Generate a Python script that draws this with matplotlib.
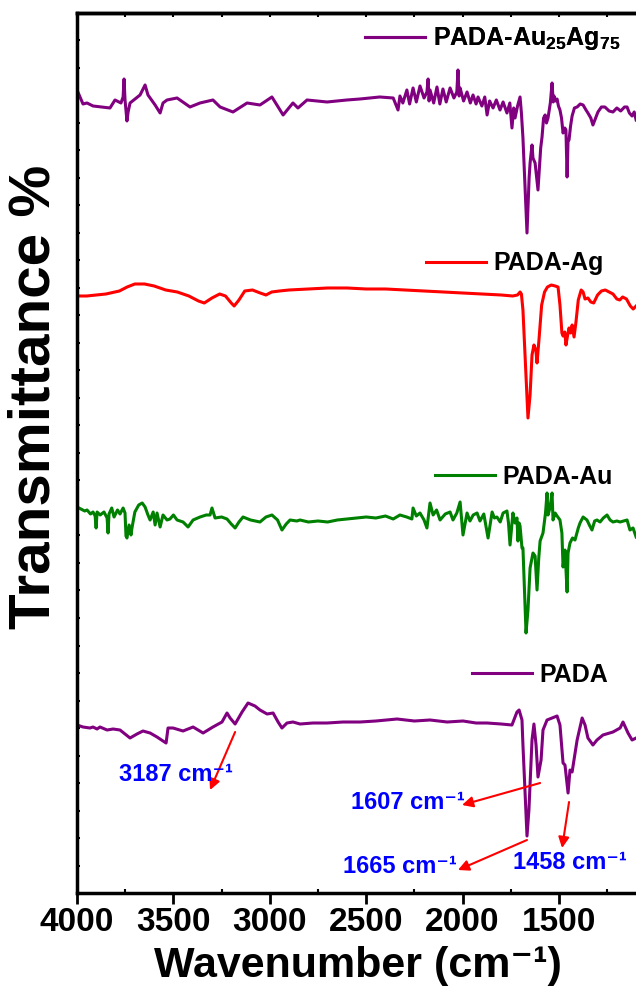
import numpy as np
import matplotlib.pyplot as plt
from matplotlib.ticker import MultipleLocator, FixedLocator

plt.rcParams['font.family'] = ['Liberation Sans', 'DejaVu Sans']
plt.rcParams['font.weight'] = 'bold'
plt.rcParams['mathtext.fontset'] = 'custom'
plt.rcParams['mathtext.rm'] = 'Liberation Sans:bold'
plt.rcParams['mathtext.it'] = 'Liberation Sans:bold'
plt.rcParams['mathtext.bf'] = 'Liberation Sans:bold'
plt.rcParams['mathtext.default'] = 'rm'

# ---- spectra (wavenumber, relative transmittance) ----
pada_wn = [4000, 3969, 3933, 3917, 3896, 3881, 3844, 3813, 3777, 3751, 3725, 3689,
           3658, 3621, 3585, 3554, 3538, 3528, 3502, 3450, 3398, 3346, 3295, 3248,
           3222, 3206, 3180, 3144, 3113, 3077, 3051, 3014, 2983, 2957, 2937, 2911,
           2880, 2843, 2776, 2703, 2620, 2532, 2450, 2340, 2250, 2169, 2080, 1998,
           1930, 1873, 1800, 1744, 1718, 1707, 1692, 1687, 1666, 1656, 1640, 1630,
           1619, 1609, 1593, 1583, 1562, 1536, 1510, 1495, 1479, 1469, 1453, 1443,
           1432, 1406, 1380, 1365, 1350, 1324, 1303, 1272, 1220, 1183, 1168, 1142,
           1121, 1100]
pada_val = [-0.3, -0.5, -0.6, -0.5, -0.7, -0.5, -0.8, -0.7, -0.8, -1.2, -1.6, -1.2,
            -0.9, -1.1, -1.5, -1.9, -2.1, -0.6, -0.6, -0.9, -0.5, -1.1, -0.5, 0.0,
            0.9, 0.4, -0.2, 1.0, 1.9, 1.6, 1.2, 0.8, 0.9, 0.0, -0.6, -0.1,
            0.0, -0.2, -0.1, -0.1, 0.0, 0.0, 0.1, 0.3, 0.1, 0.2, 0.0, 0.1,
            -0.1, -0.1, -0.2, -0.3, 1.0, 1.2, 0.2, -2.3, -11.4, -8.8, -1.8, -0.2,
            -2.3, -5.5, -3.8, -0.8, 0.2, 0.4, 0.6, -0.3, -4.1, -4.3, -7.1, -4.8,
            -5.0, -1.8, 0.4, -0.3, -1.6, -2.3, -1.8, -1.3, -1.0, -0.6, 0.0, -1.1,
            -1.8, -1.6]

au_wn = [4000, 3980, 3960, 3948, 3930, 3917, 3906, 3901, 3896, 3880, 3860, 3844,
         3839, 3834, 3820, 3808, 3790, 3777, 3761, 3751, 3746, 3741, 3730, 3720,
         3715, 3700, 3680, 3662, 3647, 3632, 3621, 3605, 3595, 3585, 3569, 3554,
         3533, 3518, 3500, 3481, 3450, 3424, 3398, 3362, 3330, 3310, 3300, 3284,
         3250, 3222, 3200, 3180, 3160, 3139, 3100, 3051, 3020, 2989, 2960, 2937,
         2915, 2895, 2860, 2843, 2800, 2750, 2700, 2650, 2600, 2550, 2500, 2450,
         2400, 2360, 2325, 2290, 2263, 2257, 2240, 2221, 2200, 2185, 2169, 2153,
         2135, 2117, 2090, 2065, 2050, 2030, 2013, 1998, 1977, 1962, 1945, 1925,
         1910, 1890, 1868, 1847, 1835, 1822, 1805, 1790, 1770, 1762, 1754, 1739,
         1728, 1718, 1713, 1707, 1702, 1692, 1687, 1671, 1661, 1650, 1635, 1624,
         1614, 1605, 1598, 1583, 1570, 1562, 1557, 1547, 1536, 1531, 1520, 1510,
         1495, 1485, 1479, 1469, 1458, 1453, 1443, 1430, 1417, 1400, 1391, 1375,
         1355, 1340, 1329, 1315, 1303, 1287, 1270, 1251, 1235, 1220, 1200, 1183,
         1165, 1147, 1132, 1116, 1100]
au_val = [1.1, 0.9, 0.7, 0.8, 0.4, 0.6, 0.2, -1.0, 0.6, 0.3, 0.6, 0.0,
          -1.5, 0.4, 1.0, 0.1, 0.8, 0.4, 1.0, 0.5, -1.8, -2.0, -0.7, -1.7,
          -1.0, 0.6, 1.3, 1.5, 1.1, 0.3, -0.2, 0.6, -0.7, 0.5, -0.9, 0.3,
          -0.2, -0.1, 0.3, -0.2, -0.4, -0.9, -0.2, 0.1, 0.3, 0.3, 1.0, 0.0,
          0.1, -0.1, -0.6, -1.0, -0.4, 0.1, -0.2, -0.4, 0.1, 0.3, -0.2, -1.2,
          -0.6, -0.2, -0.3, -0.2, -0.4, -0.3, -0.4, -0.2, -0.1, 0.0, 0.1, 0.0,
          0.2, -0.1, 0.3, 0.1, -0.1, 1.0, 0.2, 0.5, -0.2, -1.0, 1.5, 0.3,
          0.8, -0.2, 0.4, 0.6, -0.2, 0.5, 1.6, -1.7, 0.5, -0.3, 0.3, 0.5,
          -0.3, 0.4, -2.0, 0.6, 0.0, 0.1, -0.4, 0.5, 0.7, -0.5, -2.7, 0.5,
          -0.5, 0.0, -2.3, -0.5, -0.8, -3.0, -3.0, -11.5, -9.2, -5.0, -3.5, -3.8,
          -7.2, -4.0, -2.3, -1.5, 0.5, 2.5, 0.3, 1.0, 2.5, -0.2, 0.5, 0.2,
          -0.2, -1.5, -4.9, -3.2, -7.4, -3.5, -2.5, -2.0, -2.2, -1.0, -0.5, 0.1,
          -0.2, -0.8, -1.2, -0.3, -0.2, -0.4, 0.0, 0.3, -0.2, -0.4, -0.3, -0.4,
          -0.3, -0.2, -1.2, -1.0, -1.9]

ag_wn = [4000, 3950, 3850, 3780, 3740, 3700, 3650, 3600, 3540, 3480, 3420, 3370,
         3340, 3300, 3260, 3230, 3200, 3185, 3160, 3130, 3090, 3050, 3020, 2990,
         2950, 2900, 2800, 2700, 2600, 2500, 2400, 2300, 2200, 2100, 2000, 1900,
         1800, 1740, 1715, 1702, 1695, 1687, 1675, 1661, 1650, 1640, 1630, 1620,
         1614, 1604, 1590, 1575, 1560, 1540, 1520, 1505, 1495, 1485, 1479, 1470,
         1464, 1455, 1448, 1440, 1432, 1422, 1412, 1400, 1385, 1375, 1365, 1350,
         1335, 1320, 1300, 1280, 1260, 1240, 1220, 1200, 1185, 1170, 1150, 1130,
         1115, 1100]
ag_val = [-0.3, -0.3, -0.1, 0.2, 0.6, 0.9, 0.9, 0.7, 0.3, 0.1, -0.3, -0.8,
          -1.0, -0.5, -0.1, -0.3, -1.0, -1.3, -0.7, 0.2, 0.3, 0.0, -0.2, 0.1,
          0.2, 0.3, 0.4, 0.5, 0.5, 0.4, 0.4, 0.3, 0.2, 0.1, 0.0, -0.1,
          -0.2, -0.3, -0.2, 0.1, -0.1, -1.7, -6.7, -12.5, -10.2, -6.2, -5.2, -5.7,
          -7.0, -4.7, -1.2, 0.1, 0.6, 0.8, 0.7, 0.6, -1.2, -4.0, -4.3, -3.9,
          -5.2, -4.2, -3.5, -4.0, -3.2, -4.4, -2.9, -0.7, 0.3, 0.1, -0.6, -0.5,
          -0.9, -1.0, -0.2, 0.2, 0.3, 0.1, -0.1, -0.6, -0.7, -0.4, -0.6, -1.3,
          -1.6, -1.3]

auag_wn = [4000, 3969, 3948, 3917, 3829, 3803, 3772, 3761, 3756, 3751, 3741, 3735,
           3725, 3673, 3647, 3632, 3595, 3569, 3554, 3533, 3481, 3414, 3362, 3295,
           3258, 3191, 3118, 3051, 2989, 2931, 2880, 2854, 2807, 2703, 2600, 2532,
           2430, 2360, 2335, 2325, 2310, 2289, 2275, 2257, 2240, 2221, 2200, 2185,
           2179, 2174, 2169, 2150, 2133, 2118, 2102, 2085, 2065, 2045, 2030, 2024,
           2018, 2013, 1995, 1977, 1960, 1946, 1930, 1920, 1900, 1885, 1873, 1860,
           1842, 1825, 1806, 1790, 1770, 1755, 1744, 1735, 1728, 1715, 1702, 1695,
           1687, 1666, 1655, 1650, 1640, 1635, 1624, 1609, 1595, 1588, 1580, 1572,
           1565, 1557, 1545, 1536, 1530, 1526, 1518, 1510, 1503, 1495, 1487, 1479,
           1470, 1464, 1458, 1453, 1448, 1440, 1432, 1420, 1406, 1390, 1375, 1360,
           1350, 1335, 1324, 1310, 1298, 1280, 1262, 1240, 1220, 1200, 1180, 1160,
           1147, 1135, 1121, 1110, 1100]
auag_val = [0.8, -0.6, -0.5, -0.8, -1.0, -0.2, -0.5, 0.1, 1.9, -0.2, -2.3, -1.4,
            -0.5, 0.3, 1.3, 0.3, -0.7, -1.5, -0.5, -0.2, 0.0, -0.9, -0.5, -0.2,
            -0.9, -1.4, -0.5, -0.7, 0.1, -1.7, -0.5, -1.0, -0.2, -0.4, -0.2, -0.1,
            0.1, 0.0, -1.2, 0.2, -0.5, 0.8, -0.6, 1.0, -0.4, 1.2, 0.0, 0.6,
            1.9, -0.3, 0.8, -0.5, 1.1, -0.6, 0.9, -0.4, 1.0, 0.0, 0.6, 2.8,
            0.2, 1.0, -0.3, 0.6, -0.5, 0.3, -0.6, 0.1, -0.8, 0.1, -1.7, -0.3,
            -1.0, -0.2, -1.2, -0.4, -1.5, -0.5, -3.0, -1.0, -2.0, -0.8, 0.1, -1.5,
            -4.0, -13.5, -8.0, -6.5, -4.7, -6.0, -6.5, -9.2, -5.0, -3.9, -2.0, -1.7,
            -2.5, -2.0, -0.5, 1.5, -0.4, 0.2, -0.3, -0.1, -0.8, -1.2, -2.0, -3.5,
            -3.0, -3.2, -7.9, -4.2, -4.2, -2.8, -1.8, -1.0, -0.9, -0.6, -0.7, -1.2,
            -1.5, -2.0, -2.7, -2.0, -1.4, -0.9, -0.9, -1.3, -1.4, -1.0, -1.3, -0.9,
            -0.9, -1.5, -1.8, -1.4, -2.2]

labels = ['PADA', 'PADA-Au', 'PADA-Ag', 'PADA-Au$_{25}$Ag$_{75}$']
colors = ['#800080', '#008000', '#FF0000', '#800080']
offsets = [17.1, 37.5, 60.0, 79.5]
legend_anchor = [(0.683, 0.248), (0.619, 0.473), (0.603, 0.716), (0.498, 0.971)]

# peak annotations: label, peak point, arrow head, text centre
peak_names = ['3187', '1607', '1665', '1458']
peak_from = [(3180, 16.1), (1598, 11.0), (1666, 5.3), (1448, 9.1)]
peak_to = [(3310, 10.3), (2003, 8.8), (2024, 2.3), (1484, 4.5)]
peak_text = [(3486, 11.9), (2285, 9.1), (2325, 2.7), (1443, 3.1)]

xtick_vals = [4000, 3500, 3000, 2500, 2000, 1500]

fig = plt.figure(figsize=(6.36, 9.99), dpi=100)
ax = fig.add_axes([0.1211, 0.1061, 0.9094, 0.8804])

spectra = [(pada_wn, pada_val), (au_wn, au_val), (ag_wn, ag_val), (auag_wn, auag_val)]
lines = []
for (wn, val), off, c in zip(spectra, offsets, colors):
    ln, = ax.plot(wn, np.array(val) + off, color=c, lw=2.2, solid_joinstyle='round')
    lines.append(ln)

# one small legend next to each curve
for ln, lab, anc in zip(lines, labels, legend_anchor):
    leg = ax.legend([ln], [lab], loc='center left', bbox_to_anchor=anc,
                    frameon=False, fontsize=18, handlelength=2.4, handletextpad=0.3,
                    borderpad=0, borderaxespad=0)
    ax.add_artist(leg)

for name, p0, p1, pt in zip(peak_names, peak_from, peak_to, peak_text):
    ax.annotate('', xy=p1, xytext=p0,
                arrowprops=dict(arrowstyle='-|>', color='red', lw=1.5,
                                mutation_scale=16, shrinkA=0, shrinkB=0))
    ax.text(pt[0], pt[1], name + ' cm\u207b\u00b9', color='#0000FF', fontsize=17,
            fontweight='bold', ha='center', va='center')

ax.set_xlim(4000, 1000)
ax.set_ylim(0, 87.95)
ax.xaxis.set_major_locator(FixedLocator(xtick_vals))
ax.xaxis.set_minor_locator(MultipleLocator(250))
ax.yaxis.set_major_locator(MultipleLocator(2.75))
ax.set_yticklabels([])
ax.tick_params(axis='x', which='major', direction='out', length=8, width=2,
               labelsize=24, pad=2)
ax.tick_params(axis='x', which='minor', direction='in', length=3, width=1.5)
ax.tick_params(axis='y', which='major', direction='in', length=2.5, width=1.5)

top = ax.secondary_xaxis('top')
top.xaxis.set_major_locator(MultipleLocator(250))
top.tick_params(direction='in', length=3, width=1.5, labeltop=False)
top.spines['top'].set_linewidth(2.5)

for s in ax.spines.values():
    s.set_linewidth(2.5)

ax.set_xlabel('Wavenumber (cm\u207b\u00b9)', fontsize=31, fontweight='bold')
ax.set_ylabel('Transmittance %', fontsize=42, fontweight='bold')
ax.xaxis.set_label_coords(0.486, -0.06)
ax.yaxis.set_label_coords(-0.027, 0.564)

fig.savefig('out.png', dpi=100)
